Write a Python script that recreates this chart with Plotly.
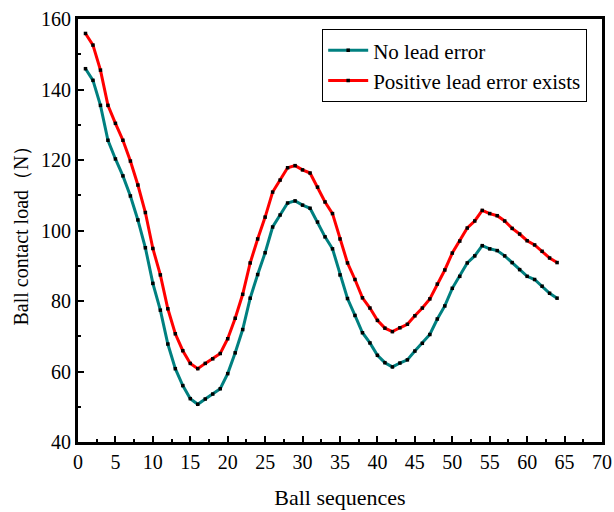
import plotly.graph_objects as go

balls = list(range(1, 65))
no_lead = [145.9, 142.6, 135.5, 125.6, 120.3, 115.5, 109.8, 103.0, 95.1, 85.0,
           77.4, 67.8, 60.8, 56.0, 52.3, 50.7, 52.2, 53.6, 55.1, 59.4,
           65.3, 71.9, 80.8, 87.5, 93.7, 101.0, 104.4, 107.8, 108.4, 107.2,
           106.3, 102.4, 98.2, 94.8, 87.4, 80.7, 75.9, 71.0, 68.1, 64.6,
           62.5, 61.3, 62.4, 63.3, 65.8, 68.0, 70.5, 74.9, 78.6, 83.6,
           87.0, 90.8, 92.8, 95.7, 94.8, 94.3, 92.8, 90.9, 88.9, 87.0,
           86.1, 84.2, 82.2, 80.8]
positive = [155.9, 152.6, 145.5, 135.5, 130.4, 125.6, 119.7, 112.9, 105.1, 94.9,
            87.4, 77.8, 70.7, 65.9, 62.3, 60.8, 62.3, 63.6, 65.1, 69.3,
            75.1, 81.9, 90.8, 97.6, 103.8, 110.9, 114.3, 117.8, 118.4, 117.2,
            116.3, 112.3, 108.1, 104.8, 97.6, 90.8, 86.1, 80.9, 78.0, 74.5,
            72.3, 71.3, 72.4, 73.4, 75.8, 78.0, 80.6, 84.8, 88.8, 93.6,
            97.0, 100.7, 102.7, 105.7, 104.8, 104.2, 102.7, 100.6, 99.0, 97.1,
            95.9, 94.1, 92.2, 90.9]

fig = go.Figure()
fig.add_trace(go.Scatter(x=balls, y=no_lead, name="No lead error", mode="lines+markers",
                         line=dict(color="#008080", width=3),
                         marker=dict(symbol="square", size=3.5, color="black")))
fig.add_trace(go.Scatter(x=balls, y=positive, name="Positive lead error exists", mode="lines+markers",
                         line=dict(color="#ff0000", width=3),
                         marker=dict(symbol="square", size=3.5, color="black")))

axis_font = dict(family="Liberation Serif", size=20, color="black")
fig.update_layout(
    width=614, height=512,
    margin=dict(l=78, r=12, t=19, b=70),
    plot_bgcolor="white", paper_bgcolor="white",
    font=dict(family="Liberation Serif", color="black"),
    showlegend=True,
    legend=dict(x=0.466, y=0.976, xanchor="left", yanchor="top",
                bordercolor="black", borderwidth=1, bgcolor="white",
                font=dict(family="Liberation Serif", size=21, color="black"),
                tracegroupgap=0, itemwidth=40),
    xaxis=dict(range=[0, 70], dtick=5, tick0=0, showgrid=False, zeroline=False,
               automargin=False,
               showline=True, linecolor="black", linewidth=3, mirror=True,
               ticks="inside", ticklen=6, tickwidth=2, tickcolor="black",
               minor=dict(ticks="inside", dtick=2.5, ticklen=3, tickwidth=1.5, tickcolor="black"),
               tickfont=axis_font,
               title=dict(text="Ball sequences", font=dict(family="Liberation Serif", size=22), standoff=18)),
    yaxis=dict(range=[40, 160], dtick=20, tick0=40, showgrid=False, zeroline=False,
               automargin=False,
               showline=True, linecolor="black", linewidth=3, mirror=True,
               ticks="inside", ticklen=6, tickwidth=2, tickcolor="black",
               minor=dict(ticks="inside", dtick=10, ticklen=3, tickwidth=1.5, tickcolor="black"),
               tickfont=axis_font,
               title=dict(text="Ball contact load（N）", font=dict(family="Liberation Serif", size=20), standoff=8)),
)

fig.write_html("out.html")
